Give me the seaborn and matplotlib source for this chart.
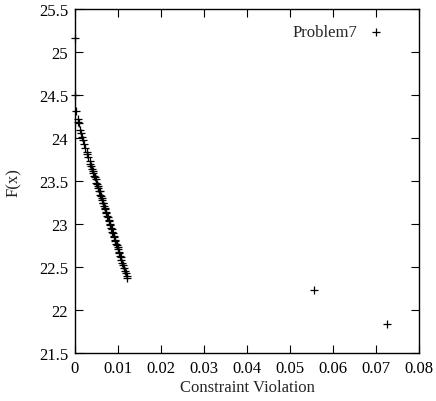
import matplotlib
matplotlib.use("Agg")
import matplotlib.pyplot as plt
import seaborn as sns
import pandas as pd

violation = [0.0000, 0.0000, 0.0003, 0.0006, 0.0008, 0.0010, 0.0011, 0.0013, 0.0016, 0.0018,
             0.0021, 0.0024, 0.0027, 0.0029, 0.0031, 0.0034, 0.0036, 0.0038, 0.0040, 0.0041,
             0.0043, 0.0045, 0.0046, 0.0048, 0.0050, 0.0051, 0.0053, 0.0054, 0.0056, 0.0057,
             0.0059, 0.0060, 0.0062, 0.0063, 0.0065, 0.0066, 0.0068, 0.0069, 0.0070, 0.0072,
             0.0073, 0.0075, 0.0076, 0.0078, 0.0079, 0.0081, 0.0082, 0.0084, 0.0085, 0.0087,
             0.0088, 0.0090, 0.0091, 0.0093, 0.0094, 0.0096, 0.0097, 0.0099, 0.0100, 0.0102,
             0.0103, 0.0105, 0.0106, 0.0108, 0.0110, 0.0112, 0.0114, 0.0116, 0.0118, 0.0120,
             0.0122, 0.0555, 0.0725]
fx = [25.16, 24.50, 24.31, 24.22, 24.19, 24.18, 24.09, 24.06, 24.01, 23.98,
      23.93, 23.89, 23.84, 23.81, 23.78, 23.73, 23.70, 23.67, 23.64, 23.62,
      23.59, 23.56, 23.55, 23.52, 23.48, 23.47, 23.44, 23.42, 23.39, 23.38,
      23.34, 23.33, 23.30, 23.28, 23.25, 23.24, 23.21, 23.19, 23.17, 23.14,
      23.13, 23.10, 23.08, 23.05, 23.04, 23.00, 22.99, 22.96, 22.94, 22.91,
      22.90, 22.86, 22.85, 22.82, 22.80, 22.77, 22.76, 22.73, 22.71, 22.68,
      22.66, 22.63, 22.62, 22.58, 22.55, 22.52, 22.49, 22.46, 22.43, 22.40,
      22.37, 22.23, 21.84]
series_label = "Problem7"
x_ticks = [0, 0.01, 0.02, 0.03, 0.04, 0.05, 0.06, 0.07, 0.08]
x_ticklabels = ["0", "0.01", "0.02", "0.03", "0.04", "0.05", "0.06", "0.07", "0.08"]
y_ticks = [21.5, 22, 22.5, 23, 23.5, 24, 24.5, 25, 25.5]
y_ticklabels = ["21.5", "22", "22.5", "23", "23.5", "24", "24.5", "25", "25.5"]

df = pd.DataFrame({"Constraint Violation": violation, "F(x)": fx})

sns.set_style("ticks")
plt.rcParams["font.family"] = ["Liberation Serif", "DejaVu Serif"]
plt.rcParams["font.size"] = 12

fig = plt.figure(figsize=(4.36, 4.02), dpi=100)
ax = fig.add_axes([0.172, 0.119, 0.789, 0.856])
sns.scatterplot(data=df, x="Constraint Violation", y="F(x)", marker="+", s=40,
                color="black", linewidth=0.9, label=series_label, ax=ax,
                clip_on=False, zorder=3)
ax.set_xlim(0, 0.08)
ax.set_ylim(21.5, 25.5)
ax.set_xticks(x_ticks)
ax.set_xticklabels(x_ticklabels)
ax.set_yticks(y_ticks)
ax.set_yticklabels(y_ticklabels)
ax.tick_params(direction="in", length=6, width=0.8, top=True, right=True,
               labelsize=12, colors="black", pad=5)
for s in ax.spines.values():
    s.set_linewidth(1.0)
    s.set_color("black")
ax.set_xlabel("Constraint Violation", fontsize=12, labelpad=2)
ax.set_ylabel("F(x)", fontsize=12, labelpad=12)
ax.legend(loc="upper right", bbox_to_anchor=(0.924, 0.975), frameon=False,
          markerfirst=False, fontsize=12, handletextpad=0.5, borderaxespad=0.0,
          handlelength=1.2)
fig.savefig("out.png", dpi=100)
